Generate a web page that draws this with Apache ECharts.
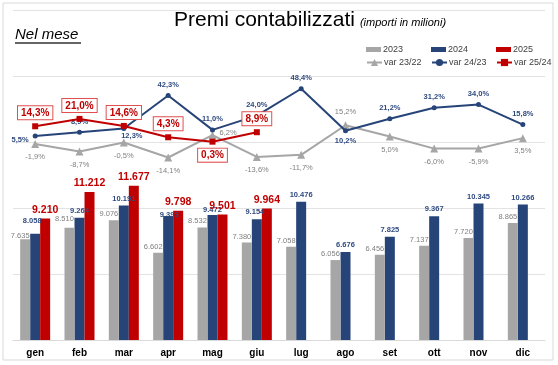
<!DOCTYPE html>
<html><head><meta charset="utf-8">
<script src="https://cdn.jsdelivr.net/npm/echarts@6/dist/echarts.min.js"></script>
<style>html,body{margin:0;padding:0;background:#fff}#c{width:558px;height:365px}</style>
</head><body><div id="c"></div>
<script>
const categories = ['gen','feb','mar','apr','mag','giu','lug','ago','set','ott','nov','dic'];
const values2023 = [7635, 8510, 9076, 6602, 8532, 7380, 7058, 6056, 6456, 7137, 7720, 8865];
const values2024 = [8058, 9264, 10191, 9393, 9472, 9154, 10476, 6676, 7825, 9367, 10345, 10266];
const values2025 = [9210, 11212, 11677, 9798, 9501, 9964, null, null, null, null, null, null];
const var2322 = [-1.9, -8.7, -0.5, -14.1, 6.2, -13.6, -11.7, 15.2, 5.0, -6.0, -5.9, 3.5];
const var2423 = [5.5, 8.9, 12.3, 42.3, 11.0, 24.0, 48.4, 10.2, 21.2, 31.2, 34.0, 15.8];
const var2524 = [14.3, 21.0, 14.6, 4.3, 0.3, 8.9];
const barNames = ['2023','2024','2025'];
const lineNames = ['var 23/22','var 24/23','var 25/24'];

const FONT = 'Liberation Sans, Arial, sans-serif';
const GRAY = '#A6A6A6', BLUE = '#264478', RED = '#C00000';

function fmtNum(v){
  const t = Math.floor(v/1000), r = v % 1000;
  return t + '.' + String(r).padStart(3,'0');
}
function fmtPct(v){ return v.toFixed(1).replace('.', ',') + '%'; }

const chart = echarts.init(document.getElementById('c'), null, {renderer:'canvas'});

function withLabels(arr, overrides){
  return arr.map((v,i)=>{
    const o = overrides[i];
    return o ? {value:v, label:o} : v;
  });
}

const legends = [];
barNames.forEach((n,i)=>legends.push({data:[n], left:366+65*i, top:45, padding:0, itemWidth:15, itemHeight:5,
  icon:'rect', textStyle:{fontSize:9, color:'#404040', fontFamily:FONT, padding:[0,0,0,-3]}}));
lineNames.forEach((n,i)=>legends.push({data:[n], left:366+65*i, top:58, padding:0, itemWidth:15, itemHeight:9,
  textStyle:{fontSize:9, color:'#404040', fontFamily:FONT, padding:[0,0,0,-3]}}));

const option = {
  backgroundColor:'#fff',
  animation:false,
  textStyle:{fontFamily:FONT},
  title:{
    left:169, top:5,
    text:'{a|Premi contabilizzati} {b|(importi in milioni)}',
    textStyle:{fontWeight:'normal', rich:{
      a:{fontSize:21, fontWeight:'normal', color:'#000', fontFamily:FONT},
      b:{fontSize:11, fontWeight:'normal', fontStyle:'italic', color:'#000', fontFamily:FONT, padding:[4,0,0,0]}
    }}
  },
  legend:legends,
  graphic:[
    {type:'rect', shape:{x:3,y:3,width:550,height:357}, style:{fill:'none', stroke:'#d9d9d9', lineWidth:1}, silent:true, z:-1},
    {type:'text', left:15, top:27, style:{text:'Nel mese', fontSize:15, fontStyle:'italic', fill:'#000', fontFamily:FONT}},
    {type:'line', shape:{x1:15,y1:43,x2:81,y2:43}, style:{stroke:'#333', lineWidth:1.3}}
  ],
  grid:{left:13, right:13, top:10, bottom:25},
  xAxis:{
    type:'category', data:categories,
    axisLine:{lineStyle:{color:'#d9d9d9'}}, axisTick:{show:false},
    axisLabel:{fontSize:10, fontWeight:'bold', color:'#000', margin:8, fontFamily:FONT}
  },
  yAxis:[
    {type:'value', min:0, max:25000, interval:5000, axisLabel:{show:false},
     axisLine:{show:false}, axisTick:{show:false}, splitLine:{lineStyle:{color:'#e3e3e3'}}},
    {type:'value', min:-180, max:120, interval:60, axisLabel:{show:false},
     axisLine:{show:false}, axisTick:{show:false}, splitLine:{show:false}}
  ],
  series:[
    {name:'2023', type:'bar', data:withLabels(values2023, {0:{distance:-1}, 1:{distance:5}}),
     barWidth:10, barGap:'0%', itemStyle:{color:GRAY}, z:3,
     label:{show:true, position:'top', distance:2, offset:[-5,0], fontSize:7.5, color:'#808080',
            formatter:p=>fmtNum(p.value)}},
    {name:'2024', type:'bar', data:withLabels(values2024, {0:{distance:9, offset:[-3,0]}, 3:{distance:-3, offset:[1,0]}, 4:{distance:1}, 5:{offset:[-2,0]}}),
     barWidth:10, barGap:'0%', itemStyle:{color:BLUE}, z:2,
     label:{show:true, position:'top', distance:3, fontSize:7.5, fontWeight:'bold', color:'#2F4A80',
            formatter:p=>fmtNum(p.value)}},
    {name:'2025', type:'bar', data:values2025, barWidth:10, barGap:'0%', itemStyle:{color:RED}, z:2,
     label:{show:true, position:'top', distance:3, fontSize:10.5, fontWeight:'bold', color:RED,
            formatter:p=>p.value==null?'':fmtNum(p.value)}},
    {name:'var 23/22', type:'line', yAxisIndex:1, symbol:'triangle', symbolSize:8,
     data:withLabels(var2322, {4:{position:'right', distance:3, offset:[0,-2]}, 7:{position:'top'}}),
     lineStyle:{color:GRAY, width:2}, itemStyle:{color:GRAY},
     label:{show:true, position:'bottom', distance:5, fontSize:7.5, color:'#808080',
            formatter:p=>fmtPct(p.value)}, z:4},
    {name:'var 24/23', type:'line', yAxisIndex:1, symbol:'circle', symbolSize:5,
     data:withLabels(var2423, {0:{position:'left', offset:[0,4]}, 2:{position:'bottom', offset:[8,-3]}, 7:{position:'bottom'}}),
     lineStyle:{color:BLUE, width:2}, itemStyle:{color:BLUE},
     label:{show:true, position:'top', distance:4, fontSize:7.5, fontWeight:'bold', color:'#2F4A80',
            formatter:p=>fmtPct(p.value)}, z:5},
    {name:'var 25/24', type:'line', yAxisIndex:1, symbol:'rect', symbolSize:6,
     data:withLabels(var2524, {4:{position:'bottom'}}),
     lineStyle:{color:RED, width:2}, itemStyle:{color:RED},
     label:{show:true, position:'top', distance:4, fontSize:10, fontWeight:'bold', color:RED,
            backgroundColor:'#fff', borderColor:'#E05050', borderWidth:1, padding:[2,3,1,3],
            formatter:p=>fmtPct(p.value)}, z:6}
  ]
};
chart.setOption(option);
</script>
</body></html>
